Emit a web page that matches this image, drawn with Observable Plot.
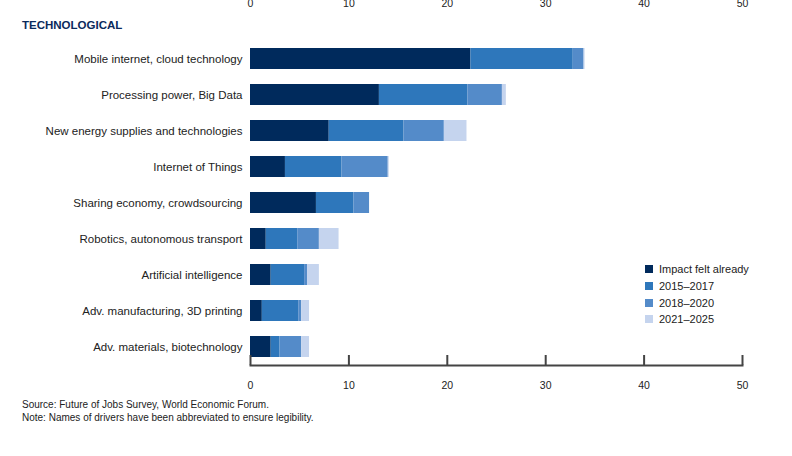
<!DOCTYPE html>
<html><head><meta charset="utf-8">
<script src="https://cdn.jsdelivr.net/npm/d3@7"></script>
<script src="https://cdn.jsdelivr.net/npm/@observablehq/plot@0.6"></script>
<style>
body{margin:0;background:#fff;font-family:"Liberation Sans",Arial,sans-serif;}
#wrap{position:relative;width:792px;height:456px;overflow:hidden;}
#title{position:absolute;left:22px;top:19px;font-size:11.5px;font-weight:bold;color:#0a2a5c;}
#legend{position:absolute;left:645px;top:261px;font-size:11px;color:#222;}
#legend div{height:16.7px;display:flex;align-items:center;}
#legend span{display:inline-block;width:8px;height:8px;margin-right:6px;}
#cap{position:absolute;left:22px;top:398px;font-size:10px;color:#222;line-height:13px;}
#chart{position:absolute;left:0;top:0;}
</style></head><body>
<div id="wrap">
<div id="chart"></div>
<div id="title">TECHNOLOGICAL</div>
<div id="legend"></div>
<div id="cap">Source: Future of Jobs Survey, World Economic Forum.<br>Note: Names of drivers have been abbreviated to ensure legibility.</div>
</div>
<script>
const categories = ["Mobile internet, cloud technology","Processing power, Big Data","New energy supplies and technologies","Internet of Things","Sharing economy, crowdsourcing","Robotics, autonomous transport","Artificial intelligence","Adv. manufacturing, 3D printing","Adv. materials, biotechnology"];
const series = ["Impact felt already","2015–2017","2018–2020","2021–2025"];
const colors = ["#002a5c","#2e77bb","#548bc9","#c5d4ee"];
// cumulative end values per category
const impactFelt = [22.4,13.1,8.0,3.55,6.7,1.6,2.1,1.2,2.1];
const cum2017 = [32.8,22.1,15.6,9.3,10.5,4.8,5.5,4.9,3.0];
const cum2020 = [33.9,25.6,19.7,14.0,12.1,7.0,5.8,5.2,5.2];
const cum2025 = [34.0,26.0,22.0,14.1,12.1,9.0,7.0,6.0,6.0];
const ticks = [0,10,20,30,40,50];

const cums = [impactFelt,cum2017,cum2020,cum2025];
const data = [];
categories.forEach((c,i)=>{
  let prev=0;
  cums.forEach((arr,k)=>{data.push({cat:c,series:series[k],x1:prev,x2:arr[i]});prev=arr[i];});
});

const plot = Plot.plot({
  width:792,height:395,marginLeft:250,marginRight:50,marginTop:40,marginBottom:30,
  style:{fontFamily:"Liberation Sans, Arial, sans-serif",fontSize:"11px",color:"#222"},
  x:{domain:[0,50],ticks:ticks},
  y:{domain:categories,paddingInner:0.42,paddingOuter:0.2,label:null},
  color:{domain:series,range:colors},
  marks:[
    Plot.barX(data,{y:"cat",x1:"x1",x2:"x2",fill:"series"}),
    Plot.axisY({tickSize:0,tickPadding:8,fontSize:11.5,label:null}),
    Plot.axisX({anchor:"top",ticks:ticks,tickSize:0,tickPadding:0,dy:-34,label:null,fontSize:10.5}),
    Plot.axisX({anchor:"bottom",ticks:ticks,tickSize:-10,tickPadding:26,label:null,stroke:"#444",strokeWidth:2,fontSize:10.5}),
    Plot.frame({anchor:"bottom",stroke:"#444",strokeWidth:2})
  ]
});
document.getElementById("chart").appendChild(plot);
const lg=document.getElementById("legend");
series.forEach((s,i)=>{const d=document.createElement("div");d.innerHTML=`<span style="background:${colors[i]}"></span>${s}`;lg.appendChild(d);});
</script>
</body></html>
